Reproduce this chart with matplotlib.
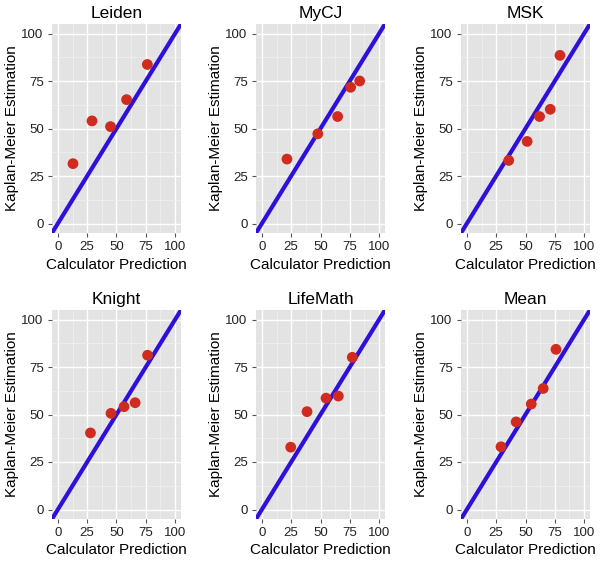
import matplotlib
matplotlib.use("Agg")
import matplotlib.pyplot as plt
import numpy as np

plt.rcParams['font.family'] = ['Liberation Sans', 'DejaVu Sans']

titles = ["Leiden", "MyCJ", "MSK", "Knight", "LifeMath", "Mean"]
leiden_x = [12.9, 29.1, 44.9, 58.6, 76.3]
leiden_y = [31.5, 54.0, 51.0, 65.2, 83.7]
mycj_x = [21.4, 47.7, 64.6, 75.7, 83.4]
mycj_y = [33.9, 47.2, 56.3, 71.7, 75.0]
msk_x = [35.7, 51.4, 62.0, 71.1, 79.4]
msk_y = [33.2, 43.2, 56.3, 60.1, 88.5]
knight_x = [27.8, 45.3, 56.4, 65.9, 76.5]
knight_y = [40.3, 50.6, 54.1, 56.2, 81.2]
lifemath_x = [24.6, 38.5, 54.7, 65.2, 77.1]
lifemath_y = [32.8, 51.5, 58.6, 59.7, 80.1]
mean_x = [29.1, 42.0, 54.9, 65.1, 76.0]
mean_y = [33.0, 46.1, 55.5, 63.7, 84.3]
series = [(leiden_x, leiden_y), (mycj_x, mycj_y), (msk_x, msk_y),
          (knight_x, knight_y), (lifemath_x, lifemath_y), (mean_x, mean_y)]
ticks = [0, 25, 50, 75, 100]
ref_intercept = 0
ref_slope = 1

W, H = 600, 562
fig = plt.figure(figsize=(W / 100, H / 100), dpi=100)

# panel boxes in pixels: (x0, x1, y0, y1) with y from top
cols = [(52, 181), (256, 385), (461, 590)]
rows = [(24, 233), (310, 519)]

for i, (title, (xs, ys)) in enumerate(zip(titles, series)):
    r, c = divmod(i, 3)
    x0, x1 = cols[c]
    y0, y1 = rows[r]
    ax = fig.add_axes([x0 / W, 1 - y1 / H, (x1 - x0) / W, (y1 - y0) / H])
    ax.set_facecolor('#E3E3E3')
    ax.set_xlim(-5, 105)
    ax.set_ylim(-5, 105)
    ax.set_xticks(ticks)
    ax.set_yticks(ticks)
    ax.set_xticks([12.5, 37.5, 62.5, 87.5], minor=True)
    ax.set_yticks([12.5, 37.5, 62.5, 87.5], minor=True)
    ax.grid(True, which='major', color='white', linewidth=1.0)
    ax.grid(True, which='minor', color='#F0F0F0', linewidth=0.5)
    ax.set_axisbelow(True)
    for s in ax.spines.values():
        s.set_visible(False)
    ax.tick_params(which='major', length=3, color='#555555', labelsize=9.5,
                   labelcolor='#222222', pad=3)
    ax.tick_params(which='minor', length=0)
    ax.axline((0, ref_intercept), slope=ref_slope, color='#2E10DC', linewidth=3.0, zorder=2)
    ax.scatter(xs, ys, s=60, color='#D12A1F', zorder=3, edgecolors='none')
    ax.set_title(title, fontsize=12.5, pad=4)
    ax.set_xlabel("Calculator Prediction", fontsize=11, labelpad=3)
    ax.set_ylabel("Kaplan-Meier Estimation", fontsize=11, labelpad=2)

fig.savefig("out.png", dpi=100)
